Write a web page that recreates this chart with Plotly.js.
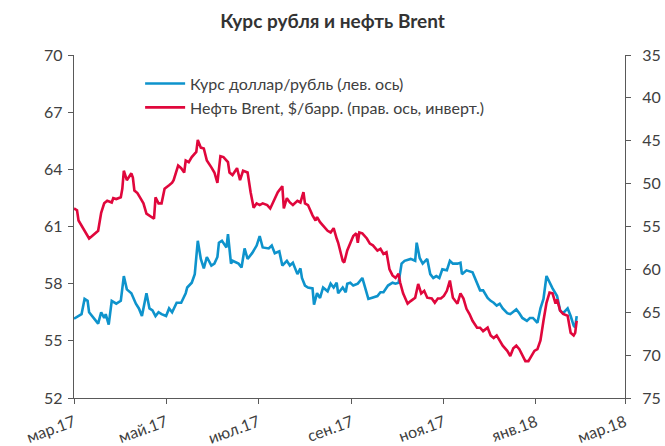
<!DOCTYPE html>
<html>
<head>
<meta charset="utf-8">
<script src="https://cdn.plot.ly/plotly-3.0.1.min.js"></script>
<style>
    html, body { margin: 0; padding: 0; background: #ffffff; }
    #chart { width: 665px; height: 446px; }
</style>
</head>
<body>
<div id="chart"></div>
<script>
const usdDates = [
    '2017-03-01', '2017-03-06', '2017-03-08', '2017-03-10', '2017-03-11', '2017-03-13', '2017-03-16', '2017-03-17',
    '2017-03-19', '2017-03-21', '2017-03-22', '2017-03-24', '2017-03-26', '2017-03-29', '2017-04-01', '2017-04-03',
    '2017-04-05', '2017-04-08', '2017-04-11', '2017-04-13', '2017-04-15', '2017-04-18', '2017-04-20', '2017-04-22',
    '2017-04-24', '2017-04-26', '2017-04-28', '2017-05-01', '2017-05-03', '2017-05-05', '2017-05-08', '2017-05-11',
    '2017-05-14', '2017-05-15', '2017-05-18', '2017-05-20', '2017-05-22', '2017-05-24', '2017-05-26', '2017-05-28',
    '2017-05-31', '2017-06-02', '2017-06-04', '2017-06-05', '2017-06-07', '2017-06-10', '2017-06-11', '2017-06-13',
    '2017-06-14', '2017-06-18', '2017-06-20', '2017-06-22', '2017-06-24', '2017-06-27', '2017-06-30', '2017-07-02',
    '2017-07-04', '2017-07-08', '2017-07-10', '2017-07-12', '2017-07-15', '2017-07-17', '2017-07-20', '2017-07-22',
    '2017-07-24', '2017-07-27', '2017-07-29', '2017-07-30', '2017-08-01', '2017-08-03', '2017-08-06', '2017-08-07',
    '2017-08-09', '2017-08-11', '2017-08-13', '2017-08-16', '2017-08-18', '2017-08-20', '2017-08-22', '2017-08-23',
    '2017-08-26', '2017-08-28', '2017-08-29', '2017-08-31', '2017-09-02', '2017-09-05', '2017-09-08', '2017-09-10',
    '2017-09-12', '2017-09-14', '2017-09-18', '2017-09-20', '2017-09-22', '2017-09-25', '2017-09-28', '2017-09-30',
    '2017-10-02', '2017-10-04', '2017-10-06', '2017-10-10', '2017-10-13', '2017-10-14', '2017-10-16', '2017-10-18',
    '2017-10-21', '2017-10-23', '2017-10-25', '2017-10-27', '2017-10-29', '2017-10-31', '2017-11-03', '2017-11-05',
    '2017-11-07', '2017-11-10', '2017-11-12', '2017-11-13', '2017-11-16', '2017-11-20', '2017-11-22', '2017-11-25',
    '2017-11-27', '2017-11-30', '2017-12-02', '2017-12-04', '2017-12-06', '2017-12-08', '2017-12-10', '2017-12-13',
    '2017-12-15', '2017-12-17', '2017-12-19', '2017-12-21', '2017-12-23', '2017-12-26', '2017-12-28', '2017-12-30',
    '2018-01-02', '2018-01-04', '2018-01-06', '2018-01-08', '2018-01-10', '2018-01-12', '2018-01-15', '2018-01-17',
    '2018-01-19', '2018-01-22', '2018-01-24', '2018-01-26', '2018-01-27', '2018-01-28',
];
const usdValues = [
    56.16, 56.4, 57.2, 57.1, 56.5, 56.3, 56.05, 55.9,
    56.5, 56.2, 56.4, 55.85, 57.1, 56.95, 57.1, 58.4,
    57.7, 57.5, 56.95, 56.7, 56.3, 57.5, 56.7, 56.6,
    56.3, 56.5, 56.4, 56.3, 56.7, 56.5, 57.0, 57.0,
    57.5, 57.8, 58.05, 58.5, 60.25, 59.3, 58.8, 59.4,
    58.95, 59.05, 59.4, 60.15, 60.25, 59.9, 60.6, 59.05,
    59.2, 59.05, 58.85, 59.85, 59.3, 59.6, 60.0, 60.5,
    59.9, 59.85, 60.0, 59.6, 59.7, 58.95, 59.2, 58.95,
    59.1, 58.5, 58.8, 58.3, 57.9, 57.8, 57.75, 56.9,
    57.5, 57.25, 57.8, 57.6, 58.0, 57.8, 58.05, 57.5,
    57.8, 57.55, 58.0, 58.05, 57.9, 58.0, 58.3, 57.8,
    57.2, 57.25, 57.35, 57.55, 57.55, 57.9, 58.05, 58.0,
    58.05, 59.05, 59.2, 59.3, 59.2, 60.15, 59.35, 59.05,
    59.3, 58.5, 58.3, 58.4, 58.3, 58.75, 58.7, 59.2,
    59.05, 59.05, 59.1, 58.5, 58.7, 58.6, 58.2, 57.65,
    57.65, 57.25, 57.1, 57.0, 56.85, 56.95, 56.7, 56.45,
    56.4, 56.55, 56.65, 56.45, 56.2, 56.05, 56.2, 56.2,
    55.95, 56.7, 57.2, 58.4, 58.05, 57.75, 57.35, 56.6,
    56.45, 56.7, 56.3, 55.8, 55.7, 56.3,
];

const brentDates = [
    '2017-03-01', '2017-03-03', '2017-03-04', '2017-03-06', '2017-03-09', '2017-03-11', '2017-03-13', '2017-03-17',
    '2017-03-19', '2017-03-21', '2017-03-23', '2017-03-26', '2017-03-27', '2017-03-29', '2017-04-01', '2017-04-02',
    '2017-04-03', '2017-04-05', '2017-04-08', '2017-04-09', '2017-04-10', '2017-04-12', '2017-04-14', '2017-04-16',
    '2017-04-18', '2017-04-21', '2017-04-23', '2017-04-24', '2017-04-26', '2017-04-28', '2017-04-30', '2017-05-03',
    '2017-05-05', '2017-05-06', '2017-05-08', '2017-05-09', '2017-05-11', '2017-05-13', '2017-05-14', '2017-05-16',
    '2017-05-18', '2017-05-21', '2017-05-22', '2017-05-24', '2017-05-26', '2017-05-28', '2017-05-31', '2017-06-02',
    '2017-06-04', '2017-06-05', '2017-06-06', '2017-06-08', '2017-06-11', '2017-06-12', '2017-06-14', '2017-06-17',
    '2017-06-19', '2017-06-21', '2017-06-24', '2017-06-26', '2017-06-28', '2017-06-30', '2017-07-02', '2017-07-04',
    '2017-07-07', '2017-07-09', '2017-07-11', '2017-07-14', '2017-07-17', '2017-07-18', '2017-07-20', '2017-07-22',
    '2017-07-24', '2017-07-27', '2017-07-29', '2017-07-31', '2017-08-01', '2017-08-03', '2017-08-06', '2017-08-08',
    '2017-08-09', '2017-08-11', '2017-08-13', '2017-08-16', '2017-08-18', '2017-08-20', '2017-08-22', '2017-08-23',
    '2017-08-26', '2017-08-27', '2017-08-29', '2017-08-31', '2017-09-02', '2017-09-04', '2017-09-05', '2017-09-06',
    '2017-09-08', '2017-09-11', '2017-09-13', '2017-09-15', '2017-09-18', '2017-09-20', '2017-09-22', '2017-09-24',
    '2017-09-25', '2017-09-26', '2017-09-28', '2017-09-30', '2017-10-02', '2017-10-03', '2017-10-05', '2017-10-08',
    '2017-10-10', '2017-10-13', '2017-10-15', '2017-10-17', '2017-10-19', '2017-10-21', '2017-10-24', '2017-10-26',
    '2017-10-28', '2017-10-30', '2017-11-01', '2017-11-03', '2017-11-05', '2017-11-07', '2017-11-10', '2017-11-12',
    '2017-11-14', '2017-11-16', '2017-11-18', '2017-11-20', '2017-11-23', '2017-11-25', '2017-11-27', '2017-11-30',
    '2017-12-02', '2017-12-04', '2017-12-06', '2017-12-08', '2017-12-10', '2017-12-13', '2017-12-15', '2017-12-17',
    '2017-12-19', '2017-12-21', '2017-12-23', '2017-12-25', '2017-12-27', '2017-12-29', '2017-12-31', '2018-01-02',
    '2018-01-04', '2018-01-06', '2018-01-08', '2018-01-10', '2018-01-12', '2018-01-14', '2018-01-15', '2018-01-17',
    '2018-01-19', '2018-01-22', '2018-01-24', '2018-01-26', '2018-01-27', '2018-01-28',
];
const brentValues = [
    52.9, 53.1, 54.3, 54.9, 55.7, 56.4, 56.1, 55.5,
    53.4, 52.3, 52.0, 52.2, 51.7, 51.8, 51.6, 50.6,
    48.5, 49.6, 48.8, 49.3, 50.8, 51.1, 51.7, 52.3,
    53.5, 53.9, 54.1, 51.6, 52.3, 52.3, 50.6, 50.2,
    49.9, 49.6, 48.5, 47.9, 48.2, 48.7, 47.3, 47.5,
    46.9, 46.3, 44.9, 45.8, 45.9, 47.3, 48.1, 48.7,
    49.9, 47.9, 46.8, 46.9, 47.5, 48.7, 49.0, 48.2,
    49.6, 48.5, 48.7, 51.0, 52.8, 52.3, 52.5, 52.3,
    52.5, 52.9, 52.2, 51.0, 50.3, 52.9, 51.7, 52.2,
    52.5, 52.0, 52.2, 51.0, 52.3, 52.5, 53.7, 54.3,
    53.9, 54.5, 54.9, 55.5, 55.7, 55.2, 56.4, 56.9,
    59.0, 59.2, 57.8, 57.0, 56.1, 55.8, 56.9, 55.7,
    55.8, 56.4, 57.0, 57.2, 57.8, 57.6, 58.2, 58.0,
    59.0, 60.0, 60.7, 61.0, 60.5, 61.5, 62.8, 64.0,
    63.7, 63.3, 61.7, 62.8, 62.5, 63.3, 63.4, 63.9,
    63.4, 63.4, 63.1, 62.5, 61.3, 63.3, 64.0, 62.8,
    63.4, 64.6, 65.2, 66.0, 66.8, 66.8, 67.2, 66.8,
    67.7, 68.0, 67.7, 68.3, 68.9, 69.5, 70.1, 69.2,
    68.9, 69.3, 70.1, 70.7, 70.7, 70.1, 69.5, 69.3,
    68.3, 66.0, 63.9, 62.7, 62.8, 64.0, 63.5, 64.8,
    65.2, 65.4, 67.4, 67.7, 67.4, 66.0,
];

const xTickDates = ['2017-03-01', '2017-05-01', '2017-07-01', '2017-09-01', '2017-11-01', '2018-01-01', '2018-03-01'];
const xTickLabels = ['мар.17', 'май.17', 'июл.17', 'сен.17', 'ноя.17', 'янв.18', 'мар.18'];

const FONT = 'Lato, "Noto Sans", sans-serif';
const TEXT_COLOR = '#404040';
const AXIS_COLOR = '#595959';

const data = [
    {
        x: usdDates,
        y: usdValues,
        type: 'scatter',
        mode: 'lines',
        name: 'Курс доллар/рубль (лев. ось)',
        line: { color: '#0e93cc', width: 2.6 },
        yaxis: 'y',
    },
    {
        x: brentDates,
        y: brentValues,
        type: 'scatter',
        mode: 'lines',
        name: 'Нефть Brent, $/барр. (прав. ось, инверт.)',
        line: { color: '#e0073c', width: 2.6 },
        yaxis: 'y2',
    },
];

const layout = {
    width: 665,
    height: 446,
    margin: { l: 74, r: 40, t: 55, b: 48 },
    paper_bgcolor: '#ffffff',
    plot_bgcolor: '#ffffff',
    font: { family: FONT, color: TEXT_COLOR, size: 15 },
    title: {
        text: '<b>Курс рубля и нефть Brent</b>',
        font: { family: FONT, size: 19, color: '#333333' },
        x: 0.5,
        xanchor: 'center',
        y: 0.952,
        yanchor: 'middle',
    },
    showlegend: true,
    legend: {
        x: 0.12,
        y: 0.966,
        xanchor: 'left',
        yanchor: 'top',
        bgcolor: 'rgba(0,0,0,0)',
        font: { family: FONT, size: 16, color: TEXT_COLOR },
        itemwidth: 40,
        tracegroupgap: 0,
    },
    xaxis: {
        type: 'date',
        range: ['2017-03-01', '2018-03-01'],
        tickmode: 'array',
        tickvals: xTickDates,
        ticktext: xTickLabels,
        tickangle: -20,
        ticks: 'outside',
        ticklen: 5,
        tickcolor: AXIS_COLOR,
        ticklabelstandoff: 3,
        showline: true,
        linecolor: AXIS_COLOR,
        linewidth: 1.3,
        showgrid: false,
        zeroline: false,
        tickfont: { family: FONT, size: 16, color: TEXT_COLOR },
    },
    yaxis: {
        range: [52, 70],
        tickvals: [52, 55, 58, 61, 64, 67, 70],
        ticks: 'outside',
        ticklen: 5,
        tickcolor: AXIS_COLOR,
        ticklabelstandoff: 2,
        showline: true,
        linecolor: AXIS_COLOR,
        linewidth: 1.3,
        showgrid: false,
        zeroline: false,
        tickfont: { family: FONT, size: 16, color: TEXT_COLOR },
    },
    yaxis2: {
        overlaying: 'y',
        side: 'right',
        range: [75, 35],
        dtick: 5,
        ticks: 'outside',
        ticklen: 5,
        tickcolor: AXIS_COLOR,
        ticklabelstandoff: 8,
        showline: true,
        linecolor: AXIS_COLOR,
        linewidth: 1.3,
        showgrid: false,
        zeroline: false,
        tickfont: { family: FONT, size: 16, color: TEXT_COLOR },
    },
};

Plotly.newPlot('chart', data, layout, { displayModeBar: false, responsive: false });
</script>
</body>
</html>
